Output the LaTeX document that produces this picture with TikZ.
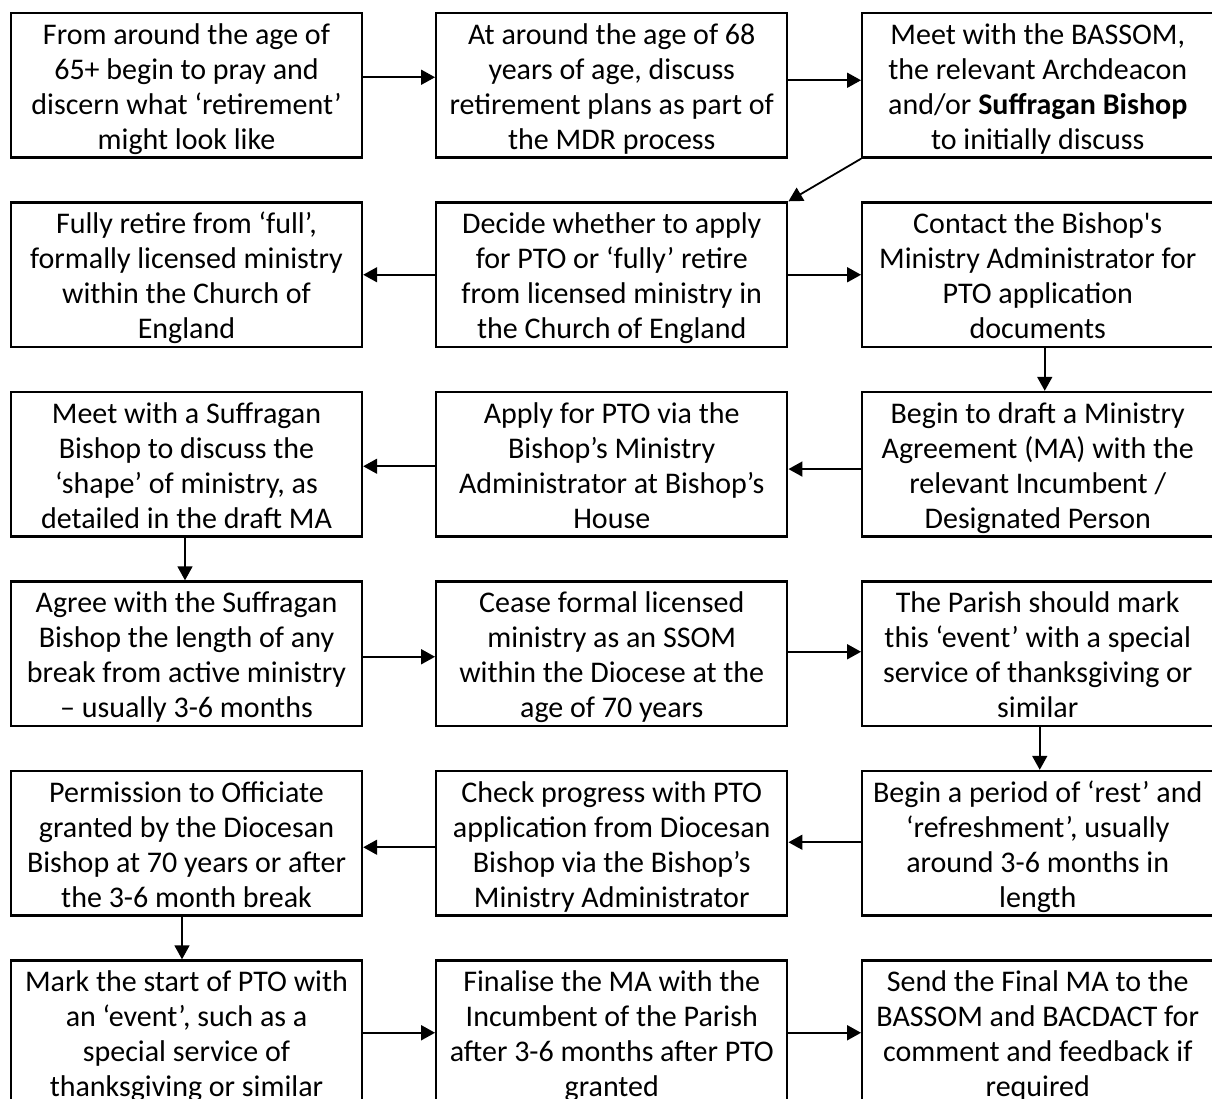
\documentclass[tikz,border=0pt]{standalone}
\usepackage{fontspec}
\setmainfont{Carlito}
\usetikzlibrary{arrows.meta}
\newcommand\fourl[4]{\rule{0pt}{15pt}#1\\#2\\#3\\#4\rule[-3.75pt]{0pt}{0pt}}
\begin{document}
\begin{tikzpicture}[x=0.5pt,y=-0.5pt,
  box/.style={draw=black, line width=1.2pt, minimum width=175.5pt, minimum height=72.25pt,
    inner sep=0pt, align=center, font=\fontsize{15pt}{17.5pt}\selectfont, text=black},
  arr/.style={-{Triangle[length=7pt,width=7.5pt]}, line width=0.9pt}]
\useasboundingbox (0,0) rectangle (1212,1099);
\fill[white] (0,0) rectangle (1212,1099);
\clip (0,0) rectangle (1212,1099);
% row 1
\node[box] (b1) at (186.5,85.25) {\fourl{From around the age of}{65+ begin to pray and}{discern what ‘retirement’}{might look like}};
\node[box] (b2) at (611.75,85.25) {\fourl{At around the age of 68}{years of age, discuss}{retirement plans as part of}{the MDR process}};
\node[box] (b3) at (1037.75,85.25) {\fourl{Meet with the BASSOM,}{the relevant Archdeacon}{and/or \textbf{Suffragan Bishop}}{to initially discuss}};
% row 2
\node[box] (b4) at (186.5,274.75) {\fourl{Fully retire from ‘full’,}{formally licensed ministry}{within the Church of}{England}};
\node[box] (b5) at (611.75,274.75) {\fourl{Decide whether to apply}{for PTO or ‘fully’ retire}{from licensed ministry in}{the Church of England}};
\node[box] (b6) at (1037.75,274.75) {\fourl{Contact the Bishop\textquotesingle s}{Ministry Administrator for}{PTO application}{documents}};
% row 3
\node[box] (b7) at (186.5,464.25) {\fourl{Meet with a Suffragan}{Bishop to discuss the}{‘shape’ of ministry, as}{detailed in the draft MA}};
\node[box] (b8) at (611.75,464.25) {\fourl{Apply for PTO via the}{Bishop’s Ministry}{Administrator at Bishop’s}{House}};
\node[box] (b9) at (1037.75,464.25) {\fourl{Begin to draft a Ministry}{Agreement (MA) with the}{relevant Incumbent /}{Designated Person}};
% row 4
\node[box] (b10) at (186.5,653.75) {\fourl{Agree with the Suffragan}{Bishop the length of any}{break from active ministry}{– usually 3-6 months}};
\node[box] (b11) at (611.75,653.75) {\fourl{Cease formal licensed}{ministry as an SSOM}{within the Diocese at the}{age of 70 years}};
\node[box] (b12) at (1037.75,653.75) {\fourl{The Parish should mark}{this ‘event’ with a special}{service of thanksgiving or}{similar}};
% row 5
\node[box] (b13) at (186.5,843.25) {\fourl{Permission to Officiate}{granted by the Diocesan}{Bishop at 70 years or after}{the 3-6 month break}};
\node[box] (b14) at (611.75,843.25) {\fourl{Check progress with PTO}{application from Diocesan}{Bishop via the Bishop’s}{Ministry Administrator}};
\node[box] (b15) at (1037.75,843.25) {\fourl{Begin a period of ‘rest’ and}{‘refreshment’, usually}{around 3-6 months in}{length}};
% row 6
\node[box] (b16) at (186.5,1032.75) {\fourl{Mark the start of PTO with}{an ‘event’, such as a}{special service of}{thanksgiving or similar}};
\node[box] (b17) at (611.75,1032.75) {\fourl{Finalise the MA with the}{Incumbent of the Parish}{after 3-6 months after PTO}{granted}};
\node[box] (b18) at (1037.75,1032.75) {\fourl{Send the Final MA to the}{BASSOM and BACDACT for}{comment and feedback if}{required}};
% connectors
\draw[arr] ([yshift=4pt]b1.east) -- ([yshift=4pt]b2.west);
\draw[arr] ([yshift=2.5pt]b2.east) -- ([yshift=2.5pt]b3.west);
\draw[arr] (b3.south west) -- (b5.north east);
\draw[arr] (b5.west) -- (b4.east);
\draw[arr] (b5.east) -- (b6.west);
\draw[arr] ([xshift=3.5pt]b6.south) -- ([xshift=3.5pt]b9.north);
\draw[arr] ([yshift=-2.4pt]b9.west) -- ([yshift=-2.4pt]b8.east);
\draw[arr] ([yshift=-1pt]b8.west) -- ([yshift=-1pt]b7.east);
\draw[arr] ([xshift=-0.75pt]b7.south) -- ([xshift=-0.75pt]b10.north);
\draw[arr] ([yshift=-1.5pt]b10.east) -- ([yshift=-1.5pt]b11.west);
\draw[arr] ([yshift=1pt]b11.east) -- ([yshift=1pt]b12.west);
\draw[arr] ([xshift=1pt]b12.south) -- ([xshift=1pt]b15.north);
\draw[arr] ([yshift=0.5pt]b15.west) -- ([yshift=0.5pt]b14.east);
\draw[arr] ([yshift=-2pt]b14.west) -- ([yshift=-2pt]b13.east);
\draw[arr] ([xshift=-2.25pt]b13.south) -- ([xshift=-2.25pt]b16.north);
\draw[arr] (b16.east) -- (b17.west);
\draw[arr] (b17.east) -- (b18.west);
\end{tikzpicture}
\end{document}
